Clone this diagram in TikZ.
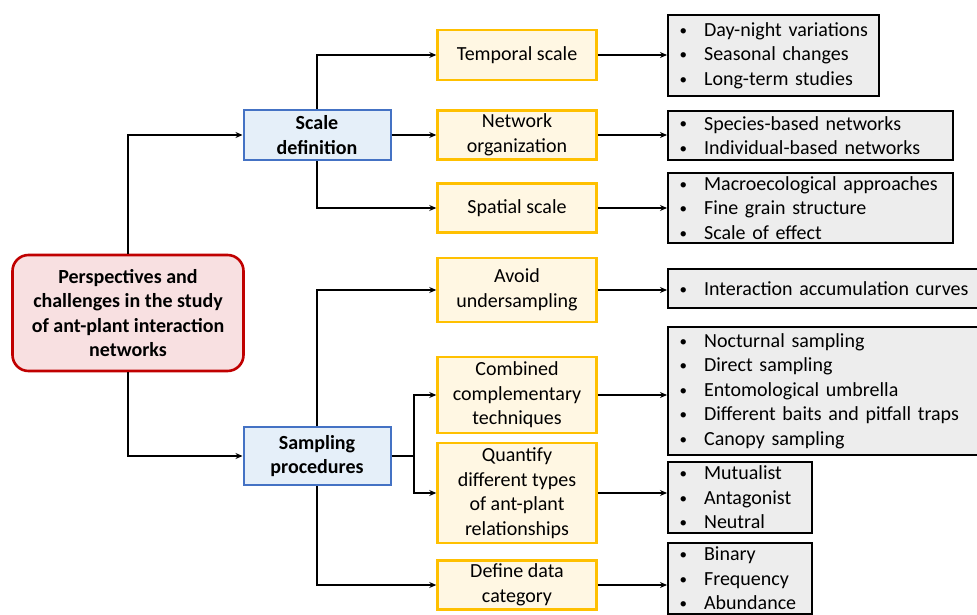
\documentclass[tikz,border=0pt]{standalone}
\usepackage{fontspec}
\setmainfont{Carlito}
\usetikzlibrary{arrows.meta}

\definecolor{rootred}{HTML}{C00000}
\definecolor{rootfill}{HTML}{F8E0E1}
\definecolor{branchblue}{HTML}{4472C4}
\definecolor{branchfill}{HTML}{E5EFF9}
\definecolor{topicgold}{HTML}{FFC000}
\definecolor{topicfill}{HTML}{FFF7E3}
\definecolor{listfill}{HTML}{EDEDED}

\newcommand{\itm}[1]{\makebox[25.5pt][l]{\hspace{1pt}\raisebox{1.2pt}{\scalebox{0.75}{\textbullet}}}#1}

\begin{document}
\begin{tikzpicture}[x=1pt, y=-1pt,
    font=\fontsize{20}{24.5}\selectfont,
    root/.style={rectangle, rounded corners=16pt, draw=rootred, line width=2.6pt, fill=rootfill, minimum width=231pt, minimum height=116pt, align=center, font=\fontsize{20}{24.5}\selectfont\bfseries},
    branch/.style={rectangle, draw=branchblue, line width=2pt, fill=branchfill, minimum width=147pt, align=center, inner sep=2pt, font=\fontsize{20}{24.5}\selectfont\bfseries},
    topic/.style={rectangle, draw=topicgold, line width=2.5pt, fill=topicfill, minimum width=159pt, align=center, inner sep=2pt},
    list/.style={rectangle, draw=black, line width=2.2pt, fill=listfill, anchor=west, inner xsep=10.5pt, inner ysep=1pt, align=left},
    arrow/.style={-{Stealth[length=7pt,width=6pt]}, line width=2pt}
]
\useasboundingbox (0,0) rectangle (977,615);

% Root and the two branches
\node[root] (root) at (128,313) {Perspectives and\\challenges in the study\\of ant-plant interaction\\networks};
\node[branch, minimum height=50pt] (scale) at (317,135) {Scale\\definition};
\node[branch, minimum height=58pt] (sampling) at (317,456) {Sampling\\procedures};

% Topics
\node[topic, minimum height=50pt] (temporal) at (517,55) {Temporal scale};
\node[topic, minimum height=49pt] (network) at (517,135) {Network\\organization};
\node[topic, minimum height=49pt] (spatial) at (517,208) {Spatial scale};
\node[topic, minimum height=64pt] (avoid) at (517,290) {Avoid\\undersampling};
\node[topic, minimum height=76pt] (combined) at (517,395) {Combined\\complementary\\techniques};
\node[topic, minimum height=100pt] (quantify) at (517,493) {Quantify\\different types\\of ant-plant\\relationships};
\node[topic, minimum height=49pt] (define) at (517,585) {Define data\\category};

% Bullet lists
\node[list, text width=190pt, minimum height=81pt] (tlist) at (667,55.5) {\itm{Day-night variations}\\\itm{Seasonal changes}\\\itm{Long-term studies}};
\node[list, text width=264pt, minimum height=49pt] (nlist) at (667,135.5) {\itm{Species-based networks}\\\itm{Individual-based networks}};
\node[list, text width=264pt, minimum height=70pt] (slist) at (667,208) {\itm{Macroecological approaches}\\\itm{Fine grain structure}\\\itm{Scale of effect}};
\node[list, text width=297pt, minimum height=39pt] (ilist) at (667,288.5) {\itm{Interaction accumulation curves}};
\node[list, text width=297pt, minimum height=128pt] (clist) at (667,391) {\itm{Nocturnal sampling}\\\itm{Direct sampling}\\\itm{Entomological umbrella}\\\itm{Different baits and pitfall traps}\\\itm{Canopy sampling}};
\node[list, text width=123pt, minimum height=71pt] (qlist) at (667,497.5) {\itm{Mutualist}\\\itm{Antagonist}\\\itm{Neutral}};
\node[list, text width=123pt, minimum height=71pt] (dlist) at (667,578.5) {\itm{Binary}\\\itm{Frequency}\\\itm{Abundance}};

% Connectors
\draw[arrow] (root.north) |- (scale.west);
\draw[arrow] (root.south) |- (sampling.west);
\draw[arrow] (scale.north) |- (temporal.west);
\draw[arrow] (scale.east) -- (scale.east -| network.west);
\draw[arrow] (scale.south) |- (spatial.west);
\draw[arrow] (sampling.north) |- (avoid.west);
\draw[arrow] (sampling.south) |- (define.west);
\coordinate (fork) at (414,456);
\draw[line width=2.2pt] (sampling.east) -- (fork);
\draw[arrow] (fork) |- (combined.west);
\draw[arrow] (fork) |- (quantify.west);
\draw[arrow] (temporal.east) -- (temporal.east -| tlist.west);
\draw[arrow] (network.east) -- (network.east -| nlist.west);
\draw[arrow] (spatial.east) -- (spatial.east -| slist.west);
\draw[arrow] (avoid.east) -- (avoid.east -| ilist.west);
\draw[arrow] (combined.east) -- (combined.east -| clist.west);
\draw[arrow] (quantify.east) -- (quantify.east -| qlist.west);
\draw[arrow] (define.east) -- (define.east -| dlist.west);
\end{tikzpicture}
\end{document}
